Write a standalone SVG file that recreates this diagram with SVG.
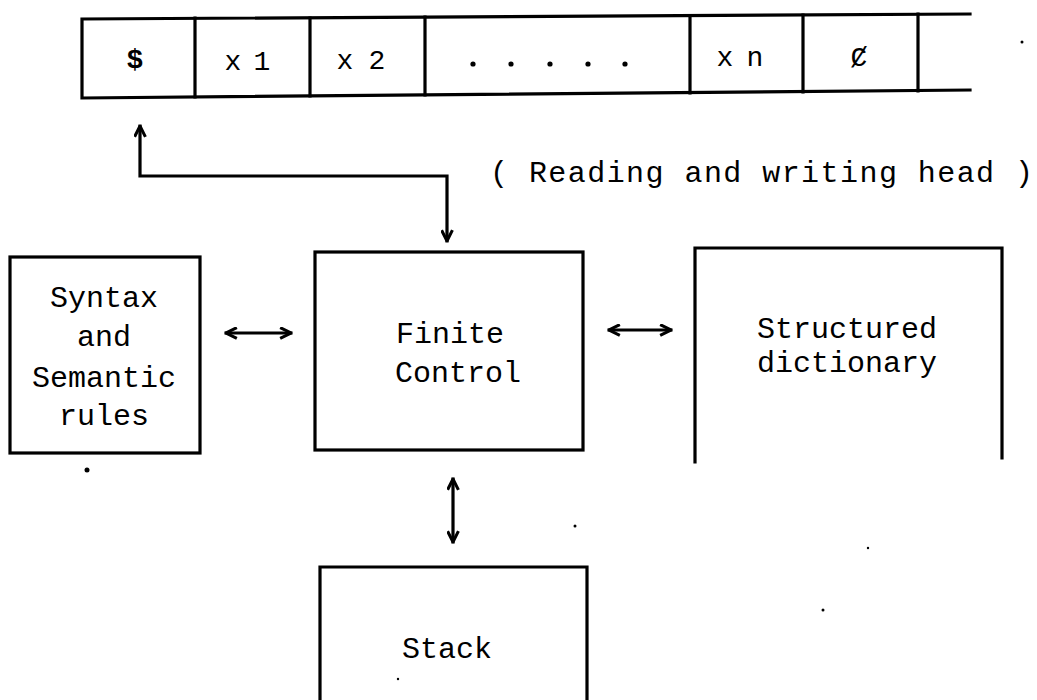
<svg xmlns="http://www.w3.org/2000/svg" width="1037" height="700" viewBox="0 0 1037 700">
<defs>
<style>
.ln{fill:none;stroke:#000;stroke-width:3.2;stroke-linecap:square;stroke-linejoin:miter}
.bx{fill:#fff;stroke:#000;stroke-width:3.2}
.t{font-family:"Liberation Mono","DejaVu Sans Mono",monospace;font-size:30px;fill:#000;text-anchor:middle}
.c{font-family:"Liberation Mono","DejaVu Sans Mono",monospace;font-size:28px;fill:#000;text-anchor:middle}
.dot{fill:#000}
</style>
<marker id="ah" viewBox="0 0 12 12" refX="11" refY="6" markerWidth="13" markerHeight="13" markerUnits="userSpaceOnUse" orient="auto-start-reverse">
<path d="M1,1 L11,6 L1,11" fill="none" stroke="#000" stroke-width="2.8"/>
</marker>
</defs>
<rect width="1037" height="700" fill="#fff"/>

<g id="tape">
<path class="ln" d="M970,14 L82,19 L82,98 L970,90"/>
<path class="ln" d="M195,18 L195,97 M310,18 L310,96 M425,17 L425,95 M690,16 L690,93 M803,15 L803,92 M918,14 L918,91"/>
<text class="c" x="135" y="68" font-weight="bold" font-size="24">$</text>
<text class="c" x="233 247 262" y="70">x 1</text>
<text class="c" x="345 361 377" y="69">x 2</text>
<g class="dot">
<circle cx="473" cy="64" r="2.6"/>
<circle cx="511" cy="64" r="2.6"/>
<circle cx="550" cy="64" r="2.6"/>
<circle cx="588" cy="64" r="2.6"/>
<circle cx="625" cy="64" r="2.6"/>
</g>
<text class="c" x="725 740 755" y="66">x n</text>
<text class="c" x="859" y="66" font-family="DejaVu Serif, serif">Ȼ</text>
</g>

<g id="head-label">
<text class="t" x="490" y="182" style="text-anchor:start" textLength="543" lengthAdjust="spacing">( Reading and writing head )</text>
</g>

<g id="syntax">
<rect class="bx" x="10" y="257" width="190" height="196"/>
<text class="t" x="104" y="307">Syntax</text>
<text class="t" x="104" y="346">and</text>
<text class="t" x="104" y="387">Semantic</text>
<text class="t" x="104" y="425">rules</text>
</g>

<g id="finite-control">
<rect class="bx" x="315" y="252" width="268" height="198"/>
<text class="t" x="450" y="343">Finite</text>
<text class="t" x="458" y="382">Control</text>
</g>

<g id="dictionary">
<path class="ln" d="M695,462 L695,248 L1002,248 L1002,458"/>
<text class="t" x="847" y="338">Structured</text>
<text class="t" x="847" y="372">dictionary</text>
</g>

<g id="stack">
<path class="ln" d="M320,702 L320,567 L587,567 L587,702"/>
<text class="t" x="447" y="658">Stack</text>
</g>

<g id="connectors">
<path class="ln" d="M140,126 L140,176 L447,176 L447,241" marker-start="url(#ah)" marker-end="url(#ah)"/>
<path class="ln" d="M226,333 L291,333" marker-start="url(#ah)" marker-end="url(#ah)"/>
<path class="ln" d="M609,330 L671,330" marker-start="url(#ah)" marker-end="url(#ah)"/>
<path class="ln" d="M453,479 L453,542" marker-start="url(#ah)" marker-end="url(#ah)"/>
</g>

<g id="specks">
<circle class="dot" cx="1022" cy="42" r="1.5"/>
<circle class="dot" cx="87" cy="470" r="2.5"/>
<circle class="dot" cx="575" cy="526" r="1.5"/>
<circle class="dot" cx="868" cy="548" r="1.2"/>
<circle class="dot" cx="823" cy="610" r="1.5"/>
<circle class="dot" cx="398" cy="679" r="1.2"/>
</g>
</svg>
